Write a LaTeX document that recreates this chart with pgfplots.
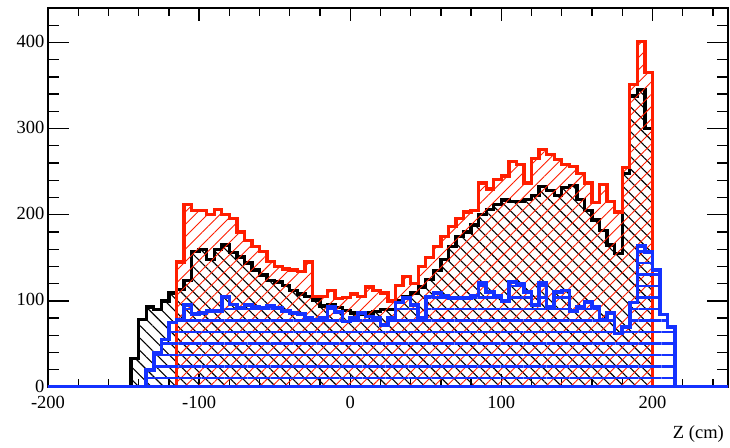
\documentclass[border=0pt]{standalone}
\usepackage{fontspec}
\setmainfont{Liberation Serif}
\usepackage{pgfplots}
\pgfplotsset{compat=1.18}
\usepackage{pgfplotstable}
\usetikzlibrary{patterns.meta}
\definecolor{rootred}{RGB}{255,30,0}
\definecolor{rootblue}{RGB}{20,50,255}

\pgfplotstableread{
x blk red blu
-200 0 0 0
-145 33 0 0
-140 78 0 0
-135 93 0 20
-130 90 0 40
-125 100 0 55
-120 109 0 75
-115 113 145 78
-110 124 212 95
-105 157 205 85
-100 160 205 86
-95 148 200 88
-90 160 206 88
-85 165 200 105
-80 156 196 96
-75 151 180 92
-70 144 170 95
-65 136 163 93
-60 130 157 92
-55 124 146 94
-50 122 140 92
-45 118 137 88
-40 112 136 86
-35 108 134 85
-30 105 145 80
-25 101 105 78
-20 94 105 80
-15 96 112 93
-10 92 103 87
-5 89 104 76
0 86 108 80
5 84 105 86
10 86 116 82
15 88 112 80
20 90 109 72
25 90 100 80
30 100 118 98
35 105 128 103
40 109 120 95
45 116 140 80
50 125 150 105
55 135 163 109
60 148 175 106
65 163 186 103
70 175 196 103
75 180 203 103
80 188 205 106
85 200 237 121
90 206 230 110
95 212 241 106
100 217 245 100
105 215 262 122
110 215 258 120
115 218 237 110
120 222 265 95
125 233 276 121
130 228 270 93
135 222 264 110
140 232 258 112
145 234 256 88
150 218 248 93
155 205 237 99
160 194 214 93
165 182 235 78
170 165 215 86
175 155 203 62
180 248 255 70
185 338 351 98
190 345 401 164
195 300 365 157
200 0 0 136
205 0 0 84
210 0 0 70
215 0 0 0
250 0 0 0
}\data

\begin{document}
\begin{tikzpicture}
\useasboundingbox (-48pt,-60pt) rectangle (682pt,387pt);
\pgfplotsset{
  common/.style={
    scale only axis, width=680pt, height=379pt,
    xmin=-200, xmax=250, ymin=0, ymax=440,
    tick align=inside,
    axis line style={line width=1.3pt},
    tick style={line width=1.3pt, black},
    ticklabel style={font=\fontsize{18.5}{20}\selectfont},
    /pgf/number format/assume math mode=true,
  }
}
\begin{axis}[common, xtick=\empty,
  ytick={0,100,...,400}, minor ytick={20,40,...,420},
  yticklabel style={yshift=1pt},
  major tick length=21pt, minor tick length=11pt]
\end{axis}
\begin{axis}[common, ytick=\empty,
  xtick={-200,-100,...,200}, minor xtick={-180,-160,...,240},
  major tick length=13pt, minor tick length=8pt,
  xticklabel style={yshift=-6pt},
  xlabel={Z (cm)},
  xlabel style={font=\fontsize{18.5}{20}\selectfont, at={(axis description cs:1,0)}, anchor=base east, inner sep=0pt, yshift=-51pt, xshift=-4pt}]
\addplot[const plot, draw=black, line width=3.3pt, line join=miter,
  pattern={Lines[angle=-45,distance=8.8pt,line width=1.1pt]}, pattern color=black]
  table[x=x,y=blk]{\data} \closedcycle;
\addplot[const plot, draw=rootred, line width=3.3pt, line join=miter,
  pattern={Lines[angle=45,distance=8.8pt,line width=0.9pt]}, pattern color=rootred]
  table[x=x,y=red]{\data} \closedcycle;
\addplot[const plot, draw=rootblue, line width=3.6pt, line join=miter,
  pattern={Lines[angle=0,distance=11.5pt,line width=2.2pt]}, pattern color=rootblue]
  table[x=x,y=blu]{\data} \closedcycle;
\end{axis}
\end{tikzpicture}
\end{document}
